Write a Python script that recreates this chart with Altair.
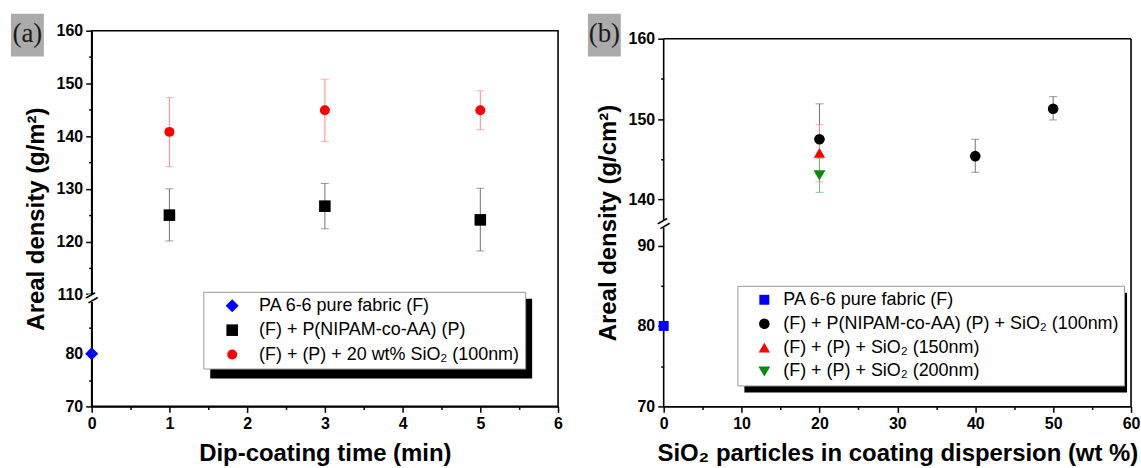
import altair as alt
import pandas as pd

# ---------------- data: panel (a) ----------------
A_NAMES = ["PA 6-6 pure fabric (F)", " (F) + P(NIPAM-co-AA) (P)", "(F) + (P) + 20 wt% SiO₂ (100nm)"]
A_PURE_X = [0]
A_PURE_Y = [80.0]
A_P_X = [1, 3, 5]
A_P_Y = [125.0, 126.7, 124.1]
A_P_LO = [120.1, 122.4, 118.2]
A_P_HI = [130.0, 131.0, 130.1]
A_S_X = [1, 3, 5]
A_S_Y = [140.8, 144.9, 144.9]
A_S_LO = [134.2, 139.0, 141.2]
A_S_HI = [147.3, 150.8, 148.6]
A_X_TICKS = [0, 0.5, 1, 1.5, 2, 2.5, 3, 3.5, 4, 4.5, 5, 5.5, 6]
A_Y_LOW_TICKS = [70, 75, 80, 85]
A_Y_UP_TICKS = [110, 115, 120, 125, 130, 135, 140, 145, 150, 155, 160]

# ---------------- data: panel (b) ----------------
B_NAMES = ["PA 6-6 pure fabric (F)", "(F) + P(NIPAM-co-AA) (P) + SiO₂ (100nm)",
           "(F) +  (P) + SiO₂ (150nm)", "(F) +  (P) + SiO₂ (200nm)"]
B_PURE_X = [0]
B_PURE_Y = [80.0]
B_100_X = [20, 40, 50]
B_100_Y = [147.5, 145.4, 151.3]
B_100_LO = [143.1, 143.4, 149.9]
B_100_HI = [151.9, 147.5, 152.8]
B_150_X = [20]
B_150_Y = [145.8]
B_150_LO = [142.2]
B_150_HI = [149.3]
B_200_X = [20]
B_200_Y = [143.0]
B_200_LO = [140.9]
B_200_HI = [145.1]
B_X_TICKS = [0, 5, 10, 15, 20, 25, 30, 35, 40, 45, 50, 55, 60]
B_Y_LOW_TICKS = [70, 75, 80, 85, 90]
B_Y_UP_TICKS = [140, 145, 150, 155, 160]


def rows(name, xs, ys, los=None, his=None):
    out = []
    for i, (x, y) in enumerate(zip(xs, ys)):
        out.append({"series": name, "x": x, "y": y,
                    "lo": None if los is None else los[i],
                    "hi": None if his is None else his[i]})
    return out


dfa = pd.DataFrame(rows(A_NAMES[0], A_PURE_X, A_PURE_Y)
                   + rows(A_NAMES[1], A_P_X, A_P_Y, A_P_LO, A_P_HI)
                   + rows(A_NAMES[2], A_S_X, A_S_Y, A_S_LO, A_S_HI))
dfb = pd.DataFrame(rows(B_NAMES[0], B_PURE_X, B_PURE_Y)
                   + rows(B_NAMES[1], B_100_X, B_100_Y, B_100_LO, B_100_HI)
                   + rows(B_NAMES[2], B_150_X, B_150_Y, B_150_LO, B_150_HI)
                   + rows(B_NAMES[3], B_200_X, B_200_Y, B_200_LO, B_200_HI))

FONT = "Liberation Sans"
FRAME_W = 1.6


def panel(df, names, colors, shapes, sizes, errcolors, xticks, xmajor, xdomain, xtitle,
          ytitle, off, low_ticks, up_ticks, ytop, brk, width, height, title_y,
          legend_pos, shadow, box, label, own_frame):
    ydomain = [low_ticks[0] + off, ytop]
    yvals = [v + off for v in low_ticks] + list(up_ticks)
    orig = f"(datum.value < {brk} ? round(datum.value - {off}) : round(datum.value))"
    ylabel = f"{orig} % 10 == 0 ? '' + {orig} : ''"
    ytick = {"condition": {"test": f"{orig} % 10 == 0", "value": 6}, "value": 3}
    xlabel = f"datum.value % {xmajor} == 0 ? '' + datum.value : ''"
    xtick = {"condition": {"test": f"datum.value % {xmajor} == 0", "value": 6}, "value": 3}

    def X(field="x"):
        return alt.X(f"{field}:Q", scale=alt.Scale(domain=xdomain, nice=False, zero=False),
                     axis=alt.Axis(values=xticks, labelExpr=xlabel, tickSize=xtick,
                                   title=xtitle, labelFlush=False, labelOverlap=False,
                                   titleFontSize=24, titlePadding=10, labelPadding=3))

    def Y(field):
        return alt.Y(f"{field}:Q", scale=alt.Scale(domain=ydomain, nice=False, zero=False),
                     axis=alt.Axis(values=yvals, labelExpr=ylabel, tickSize=ytick,
                                   title=ytitle, labelOverlap=False, titleY=title_y,
                                   domain=not own_frame,
                                   titleFontSize=24, titlePadding=8, labelPadding=3))

    base = alt.Chart(df).transform_calculate(
        yt=f"datum.y < 100 ? datum.y + {off} : datum.y",
        lot=f"datum.lo < 100 ? datum.lo + {off} : datum.lo",
        hit=f"datum.hi < 100 ? datum.hi + {off} : datum.hi",
    )

    layers = []
    one = alt.Chart(pd.DataFrame({"k": [0]}))
    if own_frame:
        top = up_ticks[-1]
        fr = pd.DataFrame({"x": [xdomain[0], xdomain[1], xdomain[0]],
                           "x2": [xdomain[0], xdomain[1], xdomain[1]],
                           "fy": [ydomain[0], ydomain[0], top],
                           "fy2": [top, top, top]})
        layers.append(alt.Chart(fr).mark_rule(color="black", strokeWidth=FRAME_W).encode(
            x=X(), x2="x2:Q", y=Y("fy"), y2="fy2:Q"))
    # decorations: legend shadow and panel label box
    layers.append(one.mark_rect(color="black").encode(
        x=alt.value(shadow[0]), x2=alt.value(shadow[2]),
        y=alt.value(shadow[1]), y2=alt.value(shadow[3])))
    layers.append(one.mark_rect(color="#ABABAB").encode(
        x=alt.value(box[0]), x2=alt.value(box[2]),
        y=alt.value(box[1]), y2=alt.value(box[3])))
    layers.append(one.mark_text(font="Liberation Serif", fontSize=27, color="#1a1a1a",
                                baseline="middle", align="center").encode(
        x=alt.value((box[0] + box[2]) / 2), y=alt.value((box[1] + box[3]) / 2 - 1),
        text=alt.value(label)))

    # error bars
    for name, ec in zip(names, errcolors):
        if ec is None:
            continue
        sub = base.transform_filter(alt.datum.series == name)
        layers.append(sub.mark_rule(color=ec, strokeWidth=1).encode(x=X(), y=Y("lot"), y2="hit:Q"))
        layers.append(sub.mark_tick(color=ec, orient="horizontal", size=8, thickness=1)
                      .encode(x=X(), y=Y("lot")))
        layers.append(sub.mark_tick(color=ec, orient="horizontal", size=8, thickness=1)
                      .encode(x=X(), y=Y("hit")))

    leg = alt.Legend(title=None, orient="none", legendX=legend_pos[0], legendY=legend_pos[1],
                     fillColor="white", strokeColor="#9a9a9a", padding=5,
                     labelFont=FONT, labelFontSize=18, labelColor="black",
                     symbolSize=70, symbolStrokeWidth=0, rowPadding=legend_pos[4],
                     symbolOffset=legend_pos[2], labelOffset=legend_pos[3], zindex=1,
                     labelLimit=500)
    layers.append(base.mark_point(filled=True, opacity=1, strokeWidth=0).encode(
        x=X(), y=Y("yt"),
        color=alt.Color("series:N", scale=alt.Scale(domain=names, range=colors), legend=leg),
        shape=alt.Shape("series:N", scale=alt.Scale(domain=names, range=shapes), legend=leg),
        size=alt.Size("series:N", scale=alt.Scale(domain=names, range=sizes), legend=None),
    ))

    # axis break marker
    bdf = pd.DataFrame({"x": [xdomain[0]], "bk": [brk]})
    bch = alt.Chart(bdf)
    layers.append(bch.mark_point(shape="square", filled=True, color="white", opacity=1,
                                 size=60, strokeWidth=0).encode(x=X(), y=Y("bk")))
    layers.append(bch.mark_text(text="=", fontSize=22, angle=330, font=FONT, color="black",
                                baseline="middle", align="center").encode(x=X(), y=Y("bk")))

    ch = alt.layer(*layers).properties(width=width, height=height)
    if own_frame:
        ch = ch.properties(view=alt.ViewBackground(stroke="transparent"))
    return ch


pa = panel(dfa, A_NAMES, ["#0000FF", "#000000", "#FF0000"], ["diamond", "square", "circle"],
           [170, 100, 130],
           [None, "#707070", "#FF8A8A"], A_X_TICKS, 1, [0, 6], "Dip-coating time (min)",
           "Areal density (g/m²)", 18.7, A_Y_LOW_TICKS, A_Y_UP_TICKS, 160, 109.25, 468, 377,
           188.5, (112, 262, 15, 18, 6.5), (119, 269, 442, 349), (-81, -17, -48, 26), "(a)",
           False)

# panel (b): plot frame top sits 8 px lower than in (a); scale top extended above 160
B_PPU = 369 / (160 - (70 + 44.3))
pb = panel(dfb, B_NAMES, ["#0000FF", "#000000", "#FF0000", "#0A8A0A"],
           ["square", "circle", "triangle-up", "triangle-down"], [100, 140, 140, 140],
           [None, "#707070", "#FF8A8A", "#70B870"], B_X_TICKS, 10, [0, 60],
           "SiO₂ particles in coating dispersion (wt %)",
           "Areal density (g/cm²)", 44.3, B_Y_LOW_TICKS, B_Y_UP_TICKS, 160 + 8 / B_PPU,
           137.0, 469, 377, 192.5, (74, 256, 13, 10, 6), (81, 263, 465, 363),
           (-76, -17, -43, 26), "(b)", True)

chart = alt.hconcat(pa, pb, spacing=23).resolve_scale(
    color="independent", shape="independent", size="independent"
).resolve_legend(color="independent", shape="independent").properties(
    padding={"left": 10, "top": 12, "right": 0, "bottom": 0},
    background="white",
).configure_axis(
    labelFont=FONT, labelFontWeight="bold", labelFontSize=16, labelColor="black",
    titleFont=FONT, titleFontWeight="bold", titleColor="black",
    domainColor="black", domainWidth=FRAME_W, tickColor="black", tickWidth=1.5, grid=False,
).configure_view(stroke="black", strokeWidth=FRAME_W)

chart.save("out.html", embed_options={"renderer": "svg", "actions": False})
